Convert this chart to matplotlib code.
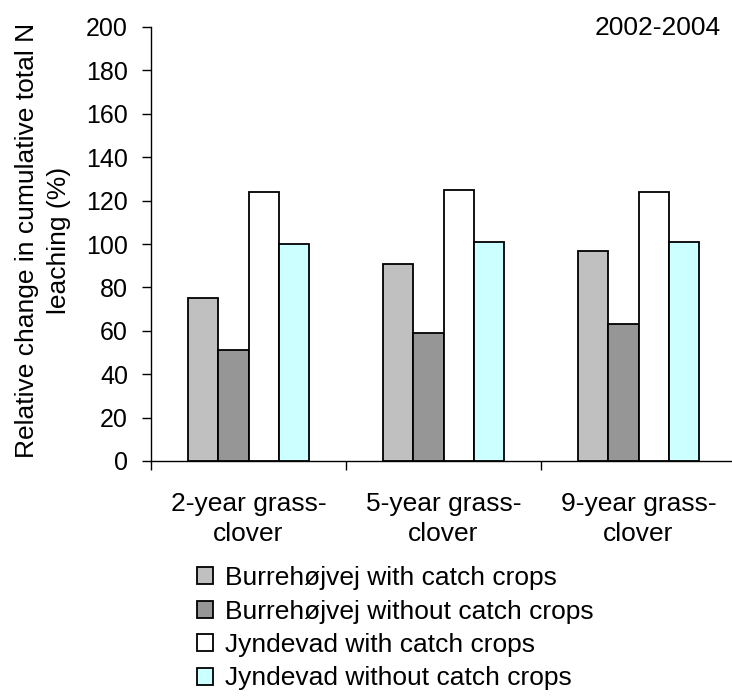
import numpy as np
import matplotlib
matplotlib.use('Agg')
import matplotlib.pyplot as plt

plt.rcParams['font.family'] = ['Liberation Sans', 'DejaVu Sans']

# data
categories = ['2-year grass-\nclover', '5-year grass-\nclover', '9-year grass-\nclover']
series_names = ['Burrehøjvej with catch crops', 'Burrehøjvej without catch crops',
                'Jyndevad with catch crops', 'Jyndevad without catch crops']
burre_with = [75, 91, 97]
burre_without = [51, 59, 63]
jynde_with = [124, 125, 124]
jynde_without = [100, 101, 101]
colors = ['#C0C0C0', '#969696', '#FFFFFF', '#CCFFFF']

fs = 19

fig = plt.figure(figsize=(7.32, 7.0), dpi=100)
# x axis runs past the right edge of the picture, as in the reference
ax = fig.add_axes([151 / 732, 1 - 461 / 700, 585 / 732, 434 / 700])

x = np.arange(len(categories))
width = 0.155
all_series = [burre_with, burre_without, jynde_with, jynde_without]
for i, (vals, col, name) in enumerate(zip(all_series, colors, series_names)):
  ax.bar(x + (i - 1.5) * width, vals, width, color=col, edgecolor='black',
         linewidth=1.3, label=name, zorder=3)

ax.set_xlim(-0.5, 2.5)
ax.set_ylim(0, 200)
ax.set_yticks(np.arange(0, 201, 20))

# category labels on major ticks, tick marks on the boundaries
ax.set_xticks(x)
ax.set_xticklabels(categories, fontsize=fs, linespacing=1.35)
ax.set_xticks([-0.5, 0.5, 1.5], minor=True)
ax.tick_params(axis='x', which='major', length=0, pad=22)
ax.tick_params(axis='x', which='minor', length=6.5, width=1, direction='out')
ax.tick_params(axis='y', length=6.5, width=1, direction='out', labelsize=18, pad=10)

for s in ['top', 'right']:
  ax.spines[s].set_visible(False)
for s in ['left', 'bottom']:
  ax.spines[s].set_linewidth(1)

fig.text(43 / 732, 1 - 240 / 700, 'Relative change in cumulative total N\nleaching (%)',
         rotation=90, ha='center', va='center', fontsize=fs, linespacing=1.4)
fig.text(721 / 732, 1 - 28 / 700, '2002-2004', ha='right', va='center', fontsize=fs)

# legend kept just inside the bottom edge
fig.legend(loc='upper left', bbox_to_anchor=(197 / 732, 1 - 566 / 700), frameon=False,
           fontsize=fs, handlelength=0.6, handleheight=0.6, handletextpad=0.45,
           labelspacing=0.36, borderpad=0, borderaxespad=0)

plt.savefig('out.png', dpi=100)
plt.close()
